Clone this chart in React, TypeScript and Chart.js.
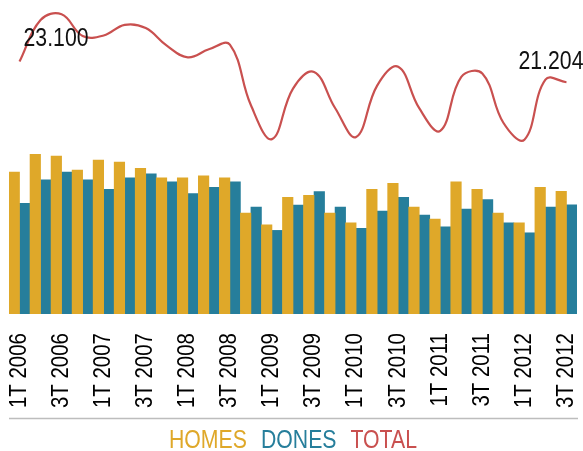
import { useEffect, useRef } from 'react';
import { Chart, registerables } from 'chart.js';

Chart.register(...registerables);

const QUARTERS = [
  '1T 2006', '2T 2006', '3T 2006', '4T 2006',
  '1T 2007', '2T 2007', '3T 2007', '4T 2007',
  '1T 2008', '2T 2008', '3T 2008', '4T 2008',
  '1T 2009', '2T 2009', '3T 2009', '4T 2009',
  '1T 2010', '2T 2010', '3T 2010', '4T 2010',
  '1T 2011', '2T 2011', '3T 2011', '4T 2011',
  '1T 2012', '2T 2012', '3T 2012',
];

const HOMES = [
  12980, 14600, 14440, 13160, 14080, 13890, 13340, 12460, 12460, 12640,
  12460, 9230, 8160, 10670, 10850, 9230, 8340, 11400, 11950, 9780,
  8680, 12090, 11400, 9230, 8340, 11580, 11214,
];

const DONES = [
  10120, 12280, 12980, 12280, 11400, 12460, 12820, 12090, 11030, 11580,
  12090, 9780, 7650, 9960, 11210, 9780, 7830, 9410, 10670, 9050,
  7980, 9600, 10480, 8340, 7430, 9780, 9990,
];

const TOTAL = [
  23100, 26900, 27420, 25440, 25480, 26450, 26160, 24550, 23490, 24220,
  24650, 19100, 16000, 20630, 22150, 18850, 16200, 20900, 22620, 18830,
  16750, 21690, 22000, 17500, 15950, 21450, 21204,
];

const SERIES_NAMES = ['HOMES', 'DONES', 'TOTAL'];
const SERIES_COLORS = ['#DFA829', '#267E9B', '#C9504F'];

const SANS = '"Liberation Sans", Arial, sans-serif';
const NARROW_SCALE = 0.85;
const TICK_SCALE = 0.89;

const fmt = (v: number) => String(v).replace(/\B(?=(\d{3})+(?!\d))/g, '.');

// draws text horizontally condensed (emulating a narrow typeface)
function narrowText(ctx: any, text: string, x: number, y: number, align: 'left' | 'right') {
  const w = ctx.measureText(text).width * NARROW_SCALE;
  const left = align === 'left' ? x : x - w;
  ctx.save();
  ctx.translate(left, y);
  ctx.scale(NARROW_SCALE, 1);
  ctx.textAlign = 'left';
  ctx.fillText(text, 0, 0);
  ctx.restore();
  return w;
}

const extrasPlugin = {
  id: 'extras',
  afterDraw(chart: any) {
    const { ctx, chartArea } = chart;
    const xScale = chart.scales.x;
    ctx.save();

    // rotated category labels (every other quarter), placed by the x scale
    ctx.fillStyle = '#000';
    ctx.font = `23px ${SANS}`;
    ctx.textBaseline = 'middle';
    ctx.textAlign = 'right';
    for (let i = 0; i < QUARTERS.length; i += 2) {
      const px = xScale.getPixelForTick(i);
      ctx.save();
      ctx.translate(px, chartArea.bottom + 19);
      ctx.rotate(-Math.PI / 2);
      ctx.scale(TICK_SCALE, 1);
      ctx.fillText(xScale.getLabelForValue(i), 0, 0);
      ctx.restore();
    }

    // axis rule below the labels
    ctx.strokeStyle = '#bdbdbd';
    ctx.lineWidth = 1.5;
    ctx.beginPath();
    ctx.moveTo(chartArea.left, xScale.bottom + 0.5);
    ctx.lineTo(chartArea.right + 1, xScale.bottom + 0.5);
    ctx.stroke();

    // legend (coloured words)
    ctx.font = `25px ${SANS}`;
    ctx.textBaseline = 'alphabetic';
    const gap = 14;
    const widths = SERIES_NAMES.map((n) => ctx.measureText(n).width * NARROW_SCALE);
    const total = widths.reduce((a, b) => a + b, 0) + gap * (SERIES_NAMES.length - 1);
    let x = (chartArea.left + chartArea.right) / 2 - total / 2;
    const baseY = xScale.bottom + 30;
    SERIES_NAMES.forEach((n, i) => {
      ctx.fillStyle = SERIES_COLORS[i];
      narrowText(ctx, n, x, baseY, 'left');
      x += widths[i] + gap;
    });

    // first / last total annotations
    const meta = chart.getDatasetMeta(2);
    const first = meta.data[0];
    const last = meta.data[meta.data.length - 1];
    ctx.fillStyle = '#111';
    ctx.font = `25px ${SANS}`;
    narrowText(ctx, fmt(TOTAL[0]), first.x + 4, first.y - 16, 'left');
    narrowText(ctx, fmt(TOTAL[TOTAL.length - 1]), last.x + 17, last.y - 13, 'right');
    ctx.restore();
  },
};

export default function App() {
  const canvasRef = useRef<HTMLCanvasElement | null>(null);

  useEffect(() => {
    const canvas = canvasRef.current;
    if (!canvas) return;
    const chart = new Chart(canvas, {
      type: 'bar',
      data: {
        labels: QUARTERS,
        datasets: [
          {
            label: SERIES_NAMES[0],
            data: HOMES,
            backgroundColor: SERIES_COLORS[0],
            barPercentage: 1,
            categoryPercentage: 1,
            order: 2,
          },
          {
            label: SERIES_NAMES[1],
            data: DONES,
            backgroundColor: SERIES_COLORS[1],
            barPercentage: 1,
            categoryPercentage: 1,
            order: 2,
          },
          {
            type: 'line',
            label: SERIES_NAMES[2],
            data: TOTAL,
            borderColor: SERIES_COLORS[2],
            borderWidth: 2.2,
            pointRadius: 0,
            tension: 0.4,
            clip: false,
            order: 0,
          } as any,
        ],
      },
      options: {
        responsive: false,
        animation: false,
        devicePixelRatio: 1,
        layout: { padding: { left: 9, right: 6, top: 8, bottom: 33 } },
        plugins: { legend: { display: false }, tooltip: { enabled: false } },
        scales: {
          x: {
            grid: { display: false, drawTicks: false },
            border: { display: false },
            ticks: { display: false, autoSkip: false },
            afterFit: (scale: any) => {
              scale.height = 104;
              scale.paddingLeft = 0;
              scale.paddingRight = 0;
            },
          },
          y: {
            display: false,
            min: 0,
            max: 28000,
          },
        },
      },
      plugins: [extrasPlugin],
    });
    return () => chart.destroy();
  }, []);

  return (
    <div style={{ position: 'absolute', left: 0, top: 0, width: 583, height: 451 }}>
      <canvas ref={canvasRef} width={583} height={451} />
    </div>
  );
}
